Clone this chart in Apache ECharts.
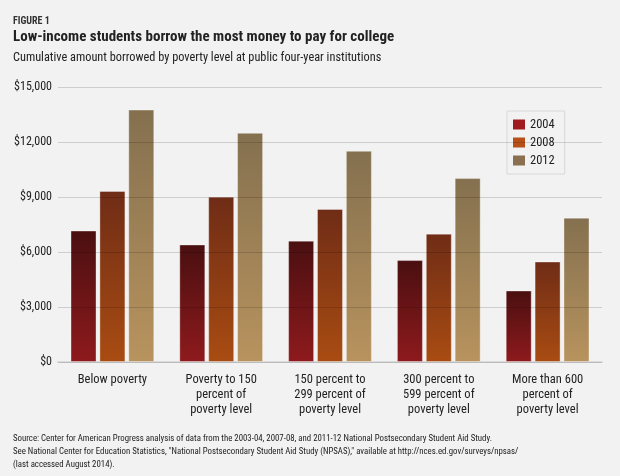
<!DOCTYPE html>
<html><head><meta charset="utf-8">
<script src="https://cdn.jsdelivr.net/npm/echarts@6/dist/echarts.min.js"></script>
<style>html,body{margin:0;padding:0;background:#f2f2f2;}#c{width:620px;height:476px;}</style>
</head><body><div id="c"></div>
<script>
const categories = ['Below poverty', 'Poverty to 150\npercent of\npoverty level', '150 percent to\n299 percent of\npoverty level', '300 percent to\n599 percent of\npoverty level', 'More than 600\npercent of\npoverty level'];
const years = ['2004', '2008', '2012'];
const v2004 = [7170, 6410, 6620, 5560, 3900];
const v2008 = [9330, 9020, 8350, 7000, 5480];
const v2012 = [13770, 12500, 11520, 10030, 7870];
const yTicks = [0, 3000, 6000, 9000, 12000, 15000];

const FONT = '"Roboto Condensed", Lato, sans-serif';
const grads = [['#4a0f10', '#8e1a1d'], ['#6f2c16', '#a94c12'], ['#84704f', '#b8935e']];
const legendColors = ['#a01c20', '#b8501a', '#8a7050'];
const values = [v2004, v2008, v2012];

function grad(c) {
  return new echarts.graphic.LinearGradient(0, 0, 0, 1, [{offset: 0, color: c[0]}, {offset: 1, color: c[1]}]);
}

const chart = echarts.init(document.getElementById('c'), null, {renderer: 'canvas'});
chart.setOption({
  backgroundColor: '#f2f2f2',
  animation: false,
  textStyle: {fontFamily: FONT},
  title: [
    {text: 'FIGURE 1', left: 8, top: 11, textStyle: {fontFamily: FONT, fontSize: 10, fontWeight: 'bold', color: '#333'}},
    {text: 'Low-income students borrow the most money to pay for college', left: 8, top: 25, textStyle: {fontFamily: FONT, fontSize: 15, fontWeight: 'bold', color: '#222'}},
    {text: 'Cumulative amount borrowed by poverty level at public four-year institutions', left: 8, top: 47, textStyle: {fontFamily: FONT, fontSize: 12.3, fontWeight: 'normal', color: '#222'}},
    {text: 'Source: Center for American Progress analysis of data from the 2003-04, 2007-08, and 2011-12 National Postsecondary Student Aid Study.\nSee National Center for Education Statistics, "National Postsecondary Student Aid Study (NPSAS)," available at http://nces.ed.gov/surveys/npsas/\n(last accessed August 2014).',
     left: 8, top: 427, textStyle: {fontFamily: FONT, fontSize: 8.8, fontWeight: 'normal', color: '#222', lineHeight: 13}}
  ],
  legend: {
    orient: 'vertical', left: 507, top: 111,
    itemWidth: 12, itemHeight: 10, itemGap: 3,
    padding: [6, 10, 6, 6],
    borderColor: '#d8d8d8', borderWidth: 1, backgroundColor: '#f2f2f2',
    textStyle: {fontFamily: FONT, fontSize: 12.5, color: '#222', lineHeight: 15},
    data: years.map((y, i) => ({name: y, icon: 'rect', itemStyle: {color: legendColors[i], borderWidth: 0}}))
  },
  grid: {left: 58, right: 18, top: 87, bottom: 114},
  xAxis: {
    type: 'category', data: categories,
    axisLine: {show: true, lineStyle: {color: '#dcdcdc', width: 2}},
    axisTick: {show: false},
    axisLabel: {fontFamily: FONT, fontSize: 12.5, color: '#222', lineHeight: 15, margin: 10, interval: 0}
  },
  yAxis: {
    type: 'value', min: 0, max: 15000, interval: 3000, z: 5,
    axisLine: {show: false}, axisTick: {show: false},
    splitLine: {lineStyle: {color: 'rgba(0,0,0,0.15)', width: 1}},
    axisLabel: {fontFamily: FONT, fontSize: 12, color: '#222', margin: 6,
      formatter: v => '$' + v.toLocaleString('en-US')}
  },
  series: years.map((y, i) => ({
    name: y, type: 'bar', data: values[i],
    barGap: '11%', barCategoryGap: '23%',
    itemStyle: {color: grad(grads[i]), borderColor: 'rgba(255,255,255,0.35)', borderWidth: 1}
  }))
});
</script></body></html>
